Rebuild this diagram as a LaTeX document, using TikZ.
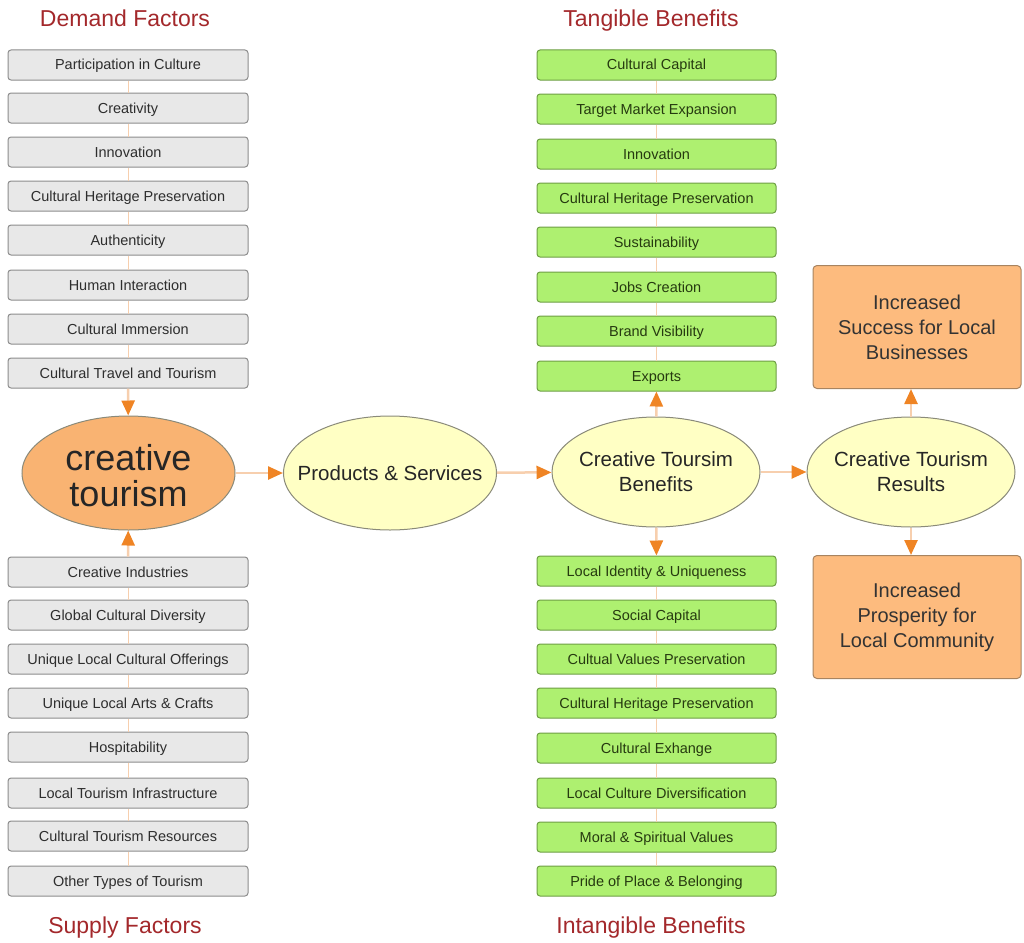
\documentclass[tikz,border=0pt]{standalone}
\usepackage{fontspec}
\setmainfont{Liberation Sans}
\usetikzlibrary{arrows.meta,shapes.geometric}
\definecolor{titlered}{HTML}{A3282B}
\definecolor{grayfill}{HTML}{E8E8E8}
\definecolor{grayline}{HTML}{8C8C8C}
\definecolor{graytext}{HTML}{2E2E2E}
\definecolor{greenfill}{HTML}{AEF070}
\definecolor{greenline}{HTML}{6E9E44}
\definecolor{greentext}{HTML}{263A10}
\definecolor{ellyellow}{HTML}{FFFFC4}
\definecolor{ellorange}{HTML}{F9B372}
\definecolor{ellline}{HTML}{8A8A7A}
\definecolor{boxorange}{HTML}{FDBB7E}
\definecolor{boxorangeline}{HTML}{A88460}
\definecolor{lineorange}{HTML}{F7CFAE}
\definecolor{arroworange}{HTML}{EF8424}
\tikzset{
  graybox/.style={rectangle, rounded corners=3pt, draw=grayline, line width=1pt, fill=grayfill,
    minimum width=240pt, minimum height=30pt, inner sep=0pt, text=graytext,
    text height=10pt, text depth=0pt,
    font=\fontsize{14.5}{17}\selectfont},
  greenbox/.style={rectangle, rounded corners=3pt, draw=greenline, line width=1pt, fill=greenfill,
    minimum width=239pt, minimum height=30pt, inner sep=0pt, text=greentext,
    text height=10pt, text depth=0pt,
    font=\fontsize{14.5}{17}\selectfont},
  bigell/.style={ellipse, draw=ellline, line width=1pt, inner sep=0pt,
    minimum width=213pt, minimum height=114pt},
  elltext/.style={text=black!85, align=center, inner sep=0pt},
  resbox/.style={rectangle, rounded corners=4pt, draw=boxorangeline, line width=1pt, fill=boxorange,
    minimum width=208pt, minimum height=123pt, inner sep=0pt, align=center, text=black!80,
    font=\fontsize{20}{25}\selectfont},
  title/.style={text=titlered, font=\fontsize{23}{28}\selectfont, anchor=base},
  chainline/.style={draw=lineorange, line width=1pt},
  conn/.style={draw=lineorange, line width=2.5pt,
    -{Triangle[length=15pt,width=13pt,color=arroworange]}},
}
\begin{document}
\begin{tikzpicture}[x=1pt,y=-1pt]
\useasboundingbox (0,0) rectangle (1024,942);

% titles
\node[title] (tdem) at (125,27) {Demand Factors};
\node[title] (ttan) at (651,27) {Tangible Benefits};
\node[title] (tsup) at (125,933) {Supply Factors};
\node[title] (tint) at (651,933) {Intangible Benefits};

% demand factors
\foreach \t [count=\i] / \y in {Participation in Culture/65, Creativity/108, Innovation/152,
  Cultural Heritage Preservation/196, Authenticity/240, Human Interaction/285,
  Cultural Immersion/329, Cultural Travel and Tourism/373}
  \node[graybox] (d\i) at (128,\y) {\t};
% supply factors
\foreach \t [count=\i] / \y in {Creative Industries/572, Global Cultural Diversity/615,
  Unique Local Cultural Offerings/659, Unique Local Arts \& Crafts/703, Hospitability/747,
  Local Tourism Infrastructure/793, Cultural Tourism Resources/836, Other Types of Tourism/881}
  \node[graybox] (s\i) at (128,\y) {\t};
% tangible
\foreach \t [count=\i] / \y in {Cultural Capital/65, Target Market Expansion/109, Innovation/154,
  Cultural Heritage Preservation/198, Sustainability/242, Jobs Creation/287,
  Brand Visibility/331, Exports/376}
  \node[greenbox] (g\i) at (656.5,\y) {\t};
% intangible
\foreach \t [count=\i] / \y in {Local Identity \& Uniqueness/571, Social Capital/615,
  Cultual Values Preservation/659, Cultural Heritage Preservation/703, Cultural Exhange/748,
  Local Culture Diversification/793, Moral \& Spiritual Values/837, Pride of Place \& Belonging/881}
  \node[greenbox] (h\i) at (656.5,\y) {\t};

% chain lines
\foreach \a/\b in {1/2,2/3,3/4,4/5,5/6,6/7,7/8} {
  \draw[chainline] (d\a) -- (d\b);
  \draw[chainline] (s\a) -- (s\b);
  \draw[chainline] (g\a) -- (g\b);
  \draw[chainline] (h\a) -- (h\b);
}

% ellipses
\node[bigell, fill=ellorange] (ct) at (128.5,473) {};
\node[elltext, font=\fontsize{36}{36}\selectfont] (ctt) at (128.5,476) {creative\\tourism};
\node[bigell, fill=ellyellow] (ps) at (390,473) {};
\node[elltext, font=\fontsize{20.5}{25}\selectfont] (pst) at (ps.center) {Products \& Services};
\node[bigell, fill=ellyellow, minimum width=208pt, minimum height=110pt] (cb) at (656,472) {};
\node[elltext, font=\fontsize{20.5}{25}\selectfont] (cbt) at (cb.center) {Creative Toursim\\Benefits};
\node[bigell, fill=ellyellow, minimum width=208pt, minimum height=110pt] (cr) at (911,472) {};
\node[elltext, font=\fontsize{20.5}{25}\selectfont] (crt) at (cr.center) {Creative Tourism\\Results};

% result boxes
\node[resbox] (o1) at (917,327) {Increased\\Success for Local\\Businesses};
\node[resbox] (o2) at (917,617) {Increased\\Prosperity for\\Local Community};

% connectors
\draw[conn] (d8) -- (ct);
\draw[conn] (s1) -- (ct);
\draw[conn] (ct) -- (ps);
\draw[conn] (ps) -- (cb);
\draw[conn] (cb) -- (cr);
\draw[conn] (cb) -- (g8);
\draw[conn] (cb) -- (h1);
\draw[conn] (cr.north) -- (cr.north |- o1.south);
\draw[conn] (cr.south) -- (cr.south |- o2.north);
\end{tikzpicture}
\end{document}
